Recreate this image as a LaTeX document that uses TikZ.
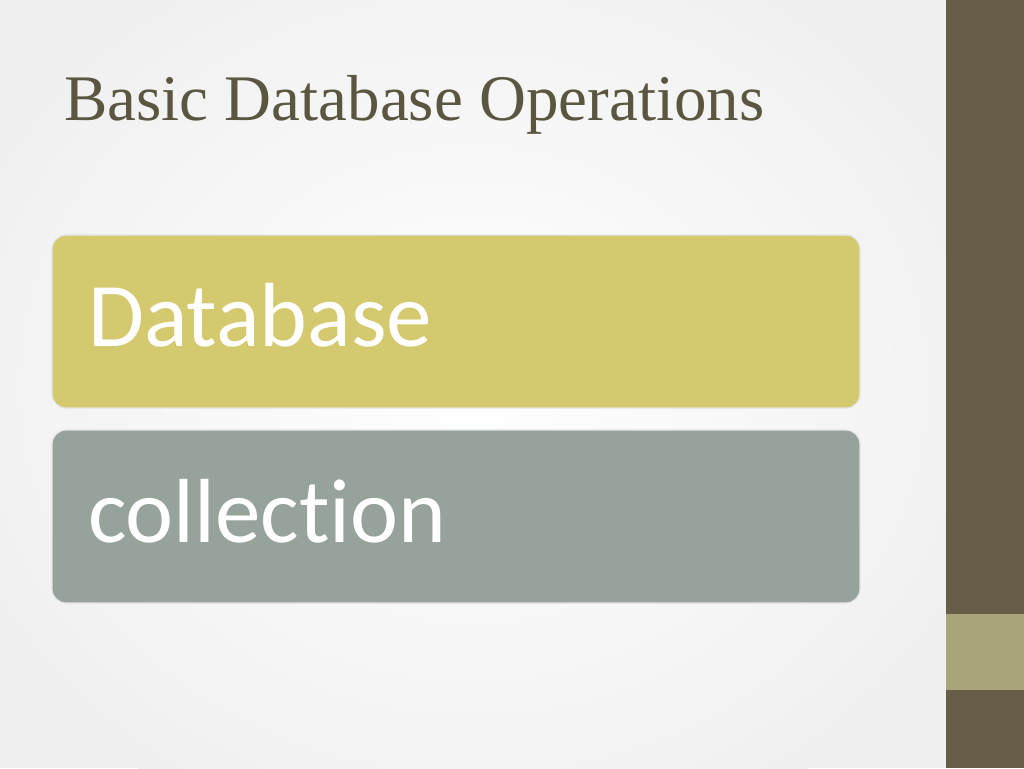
\documentclass[tikz,border=0pt]{standalone}
\usepackage{fontspec}
\setmainfont{Carlito}[Ligatures=NoCommon]
\newfontfamily\titlefont{Liberation Serif}
\definecolor{bar}{HTML}{675C46}
\definecolor{band}{HTML}{A8A57A}
\definecolor{ttl}{HTML}{5B5640}
\definecolor{yel}{HTML}{D4C96E}
\definecolor{gry}{HTML}{95A39A}
\tikzset{card/.style={draw=white!80!gray,line width=1.2pt,rounded corners=14pt},
 cardtext/.style={anchor=base west,text=white,font=\fontsize{91}{96}\selectfont,inner sep=0pt}}
\begin{document}
\begin{tikzpicture}[x=1pt,y=-1pt]
\useasboundingbox (0,0) rectangle (1024,768);
\fill[gray!12] (0,0) rectangle (946,768);
\shade[inner color=white,outer color=gray!12] (473,384) ellipse (560 and 480);
\fill[bar] (946,0) rectangle (1024,768);
\fill[band] (946,614) rectangle (1024,690);
\node[anchor=base west,inner sep=0pt,text=ttl,font=\titlefont\fontsize{65}{70}\selectfont] (title) at (64,120) {Basic Database Operations};
\path[card,fill=yel] (52,235) rectangle (860,408);
\node[cardtext] (db) at (88,346) {Database};
\path[card,fill=gry] (52,430) rectangle (860,603);
\node[cardtext] (coll) at (88,542) {collection};
\end{tikzpicture}
\end{document}
